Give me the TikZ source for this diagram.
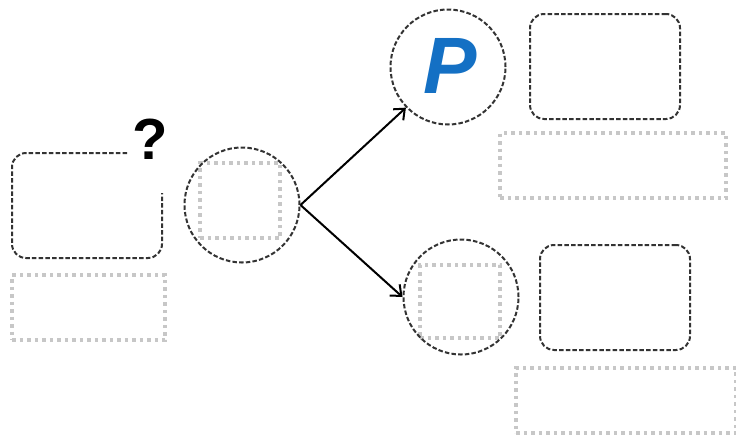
\documentclass[tikz,border=0pt]{standalone}
\usepackage{fontspec}
\usetikzlibrary{arrows.meta}
\newfontfamily\markfont{Liberation Sans}
\definecolor{pblue}{RGB}{20,112,196}
\tikzset{
  blackdash/.style={draw=black!80,line width=2pt,dash pattern=on 4.5pt off 2.2pt},
  graydot/.style={draw=black!22,line width=3.5pt,dash pattern=on 3.5pt off 4pt},
  ring/.style={circle,blackdash,minimum size=115pt,inner sep=0pt},
  card/.style={rectangle,rounded corners=14pt,blackdash,minimum width=150pt,minimum height=105pt},
  slot/.style={rectangle,graydot,inner sep=0pt},
  branch/.style={-{Straight Barb[length=9pt,width=15pt,line width=2pt]},line width=2pt},
}
\begin{document}
\begin{tikzpicture}[x=1pt,y=-1pt]
   \useasboundingbox (0,0) rectangle (736,437);
   % left card, open at its top right corner
   \draw[blackdash,rounded corners=14pt] (127,153) -- (12,153) -- (12,258) -- (162,258) -- (162,193);
   \node[font=\markfont\bfseries\fontsize{58}{58}\selectfont] (ask) at (150,139) {?};
   \node[slot,minimum width=153pt,minimum height=65pt] (leftslot) at (88.5,307.5) {};
   % middle circle
   \node[slot,minimum width=80pt,minimum height=75pt] (midslot) at (240,200.5) {};
   \node[ring] (mid) at (242,205) {};
   % top branch
   \node[ring] (top) at (448,67) {};
   \node[text=pblue,font=\markfont\bfseries\itshape\fontsize{80}{80}\selectfont] (pee) at (450,66) {P};
   \node[card] (topcard) at (605,66.5) {};
   \node[slot,minimum width=226pt,minimum height=65pt] (topslot) at (613,165.5) {};
   % bottom branch
   \node[slot,minimum width=80pt,minimum height=73pt] (lowslot) at (460,301.5) {};
   \node[ring] (low) at (461,297) {};
   \node[card] (lowcard) at (615,297.5) {};
   \node[slot,minimum width=220pt,minimum height=65pt] (lowslotb) at (626,400.5) {};
   % arrows
   \draw[branch] (mid.east) -- (top.224);
   \draw[branch] (mid.east) -- (low.west);
\end{tikzpicture}
\end{document}
